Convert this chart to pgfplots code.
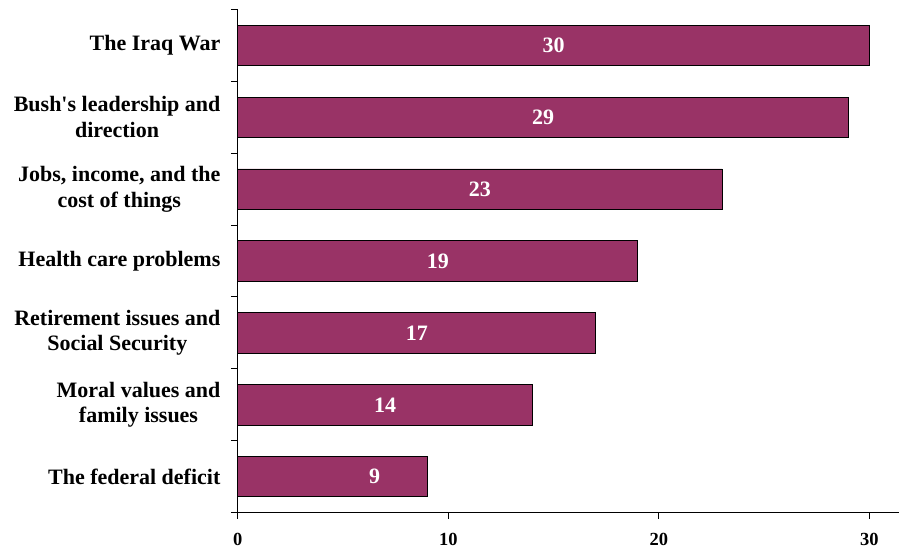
\documentclass[border=0pt]{standalone}
\usepackage{fontspec}
\setmainfont{Liberation Serif}
\usepackage{pgfplots}
\pgfplotsset{compat=1.18}
\definecolor{barc}{RGB}{153,51,102}
\begin{document}
\begin{tikzpicture}
\begin{axis}[
  scale only axis,
  width=662bp, height=503.7bp,
  xmin=0, xmax=31.43,
  ymin=-0.5, ymax=6.5,
  y dir=reverse,
  axis lines*=left,
  axis line style={line width=1.1bp, black},
  xtick={0,10,20,30},
  ytick={0,...,6},
  yticklabels={The Iraq War, Bush\textquotesingle s leadership and\\direction, {Jobs, income, and the\\cost of things}, Health care problems, Retirement issues and\\Social Security, Moral values and\\family issues, The federal deficit},
  minor ytick={-0.5,0.5,...,6.5},
  tick align=outside,
  major tick length=6bp,
  minor tick length=7bp,
  major y tick style={draw=none},
  minor y tick style={draw=black, line width=1bp},
  xtick style={black, line width=1bp},
  yticklabel style={align=center, font=\fontsize{22bp}{25.5bp}\selectfont\bfseries, xshift=-8bp},
  xticklabel style={font=\fontsize{18.5bp}{20bp}\selectfont\bfseries, yshift=-11bp},
  /pgf/number format/assume math mode=true,
  xbar,
  bar width=40.3bp,
  clip=false,
]
\addplot[fill=barc, draw=black, line width=0.8bp] coordinates {
  (30,0) (29,1) (23,2) (19,3) (17,4) (14,5) (9,6)
};
\addplot[only marks, mark=none, point meta=explicit symbolic,
  nodes near coords,
  nodes near coords style={anchor=center, text=white, font=\fontsize{22bp}{25bp}\selectfont\bfseries}]
  coordinates {
  (15,0) [30]
  (14.5,1) [29]
  (11.5,2) [23]
  (9.5,3) [19]
  (8.5,4) [17]
  (7,5) [14]
  (6.5,6) [9]
};
\end{axis}
\useasboundingbox (-238bp,-39bp) rectangle (662bp,513bp);
\end{tikzpicture}
\end{document}
